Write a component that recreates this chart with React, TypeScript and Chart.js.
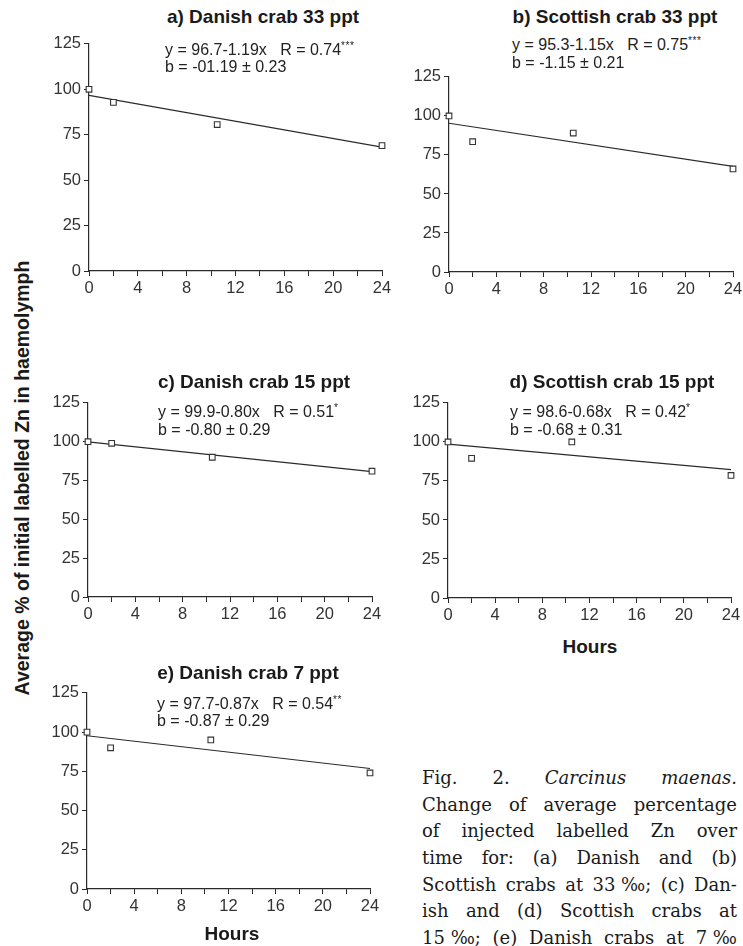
import React, { useEffect, useRef } from "react";
import { Chart, registerables } from "chart.js";

Chart.register(...registerables);

// ---------- data ----------
const panelTitles = [
  "a) Danish crab 33 ppt",
  "b) Scottish crab 33 ppt",
  "c) Danish crab 15 ppt",
  "d) Scottish crab 15 ppt",
  "e) Danish crab 7 ppt",
];
const eqIntercepts = [96.7, 95.3, 99.9, 98.6, 97.7];
const eqSlopes = [-1.19, -1.15, -0.8, -0.68, -0.87];
const eqTexts = [
  "y = 96.7-1.19x",
  "y = 95.3-1.15x",
  "y = 99.9-0.80x",
  "y = 98.6-0.68x",
  "y = 97.7-0.87x",
];
const rTexts = ["R = 0.74", "R = 0.75", "R = 0.51", "R = 0.42", "R = 0.54"];
const rStars = ["***", "***", "*", "*", "**"];
const bTexts = [
  "b = -01.19 ± 0.23",
  "b = -1.15 ± 0.21",
  "b = -0.80 ± 0.29",
  "b = -0.68 ± 0.31",
  "b = -0.87 ± 0.29",
];
const hours = [0, 2, 10.5, 24];
const valuesA = [100, 92.8, 80.6, 69];
const valuesB = [100, 83.5, 89, 66];
const valuesC = [100, 99, 90, 81];
const valuesD = [100, 89.5, 100, 78.5];
const valuesE = [100, 90, 95, 74];
const panelValues = [valuesA, valuesB, valuesC, valuesD, valuesE];
const xTickValues = [0, 2, 4, 6, 8, 10, 12, 14, 16, 18, 20, 22, 24];
const xTickLabels = ["0", "", "4", "", "8", "", "12", "", "16", "", "20", "", "24"];
const yTickValues = [0, 25, 50, 75, 100, 125];
const xAxisTitle = "Hours";
const yAxisTitle = "Average % of initial labelled Zn in haemolymph";
const captionLines: string[][] = [
  ["Fig.", "2.", "Carcinus", "maenas."],
  ["Change", "of", "average", "percentage"],
  ["of", "injected", "labelled", "Zn", "over"],
  ["time", "for:", "(a)", "Danish", "and", "(b)"],
  ["Scottish", "crabs", "at", "33 ‰;", "(c)", "Dan-"],
  ["ish", "and", "(d)", "Scottish", "crabs", "at"],
  ["15 ‰;", "(e)", "Danish", "crabs", "at", "7 ‰"],
];
const italicWords = ["Carcinus", "maenas."];

// ---------- layout (plot area rectangles in page px) ----------
const rects = [
  { l: 89, r: 382, t: 43, b: 271 },
  { l: 449, r: 733, t: 76, b: 272 },
  { l: 88, r: 372, t: 402, b: 597 },
  { l: 448, r: 731, t: 402, b: 598 },
  { l: 87, r: 370, t: 692, b: 889 },
];
const titlePos = [
  { cx: 263, cy: 17 },
  { cx: 615, cy: 17 },
  { cx: 254, cy: 382 },
  { cx: 612, cy: 382 },
  { cx: 248, cy: 673 },
];
const eqPos = [
  { x: 165, y1: 46, y2: 67 },
  { x: 512, y1: 41, y2: 63 },
  { x: 158, y1: 408, y2: 430 },
  { x: 510, y1: 408, y2: 430 },
  { x: 157, y1: 700, y2: 721 },
];

const SANS = "'Liberation Sans', Arial, Helvetica, sans-serif";
const INK = "#2a2a2a";

const PAD_L = 46;
const PAD_T = 12;
const PAD_R = 16;
const PAD_B = 34;

function Panel({ idx }: { idx: number }) {
  const ref = useRef<HTMLCanvasElement | null>(null);
  const rc = rects[idx];
  const w = rc.r - rc.l + PAD_L + PAD_R;
  const h = rc.b - rc.t + PAD_T + PAD_B;

  useEffect(() => {
    if (!ref.current) return;
    const a = eqIntercepts[idx];
    const s = eqSlopes[idx];
    const vals = panelValues[idx];
    const chart = new Chart(ref.current, {
      type: "scatter",
      data: {
        datasets: [
          {
            type: "scatter",
            data: hours.map((hh, i) => ({ x: hh, y: vals[i] })),
            pointStyle: "rect",
            pointRadius: 4,
            borderColor: "#333",
            backgroundColor: "#fff",
            borderWidth: 1.1,
            order: 0,
            clip: 8,
          } as any,
          {
            type: "line",
            data: [
              { x: 0, y: a },
              { x: 24, y: a + s * 24 },
            ],
            borderColor: INK,
            borderWidth: 1.2,
            pointRadius: 0,
            fill: false,
            order: 1,
          } as any,
        ],
      },
      options: {
        animation: false,
        responsive: false,
        maintainAspectRatio: false,
        layout: { padding: { left: 0, top: PAD_T, right: PAD_R, bottom: 0 } },
        plugins: { legend: { display: false }, tooltip: { enabled: false } },
        scales: {
          x: {
            type: "linear",
            min: 0,
            max: 24,
            afterBuildTicks: (sc: any) => {
              sc.ticks = xTickValues.map((v) => ({ value: v }));
            },
            afterFit: (sc: any) => {
              sc.height = PAD_B;
            },
            ticks: {
              autoSkip: false,
              maxRotation: 0,
              padding: 3,
              color: "#333",
              font: { family: SANS, size: 16.5 },
              callback: (v: any) => {
                const i = xTickValues.indexOf(Number(v));
                return i >= 0 ? xTickLabels[i] : "";
              },
            },
            grid: { drawOnChartArea: false, tickLength: 5, color: INK, tickWidth: 1 },
            border: { color: INK, width: 1.2 },
          },
          y: {
            type: "linear",
            min: 0,
            max: 125,
            afterBuildTicks: (sc: any) => {
              sc.ticks = yTickValues.map((v) => ({ value: v }));
            },
            afterFit: (sc: any) => {
              sc.width = PAD_L;
            },
            ticks: {
              padding: 3,
              color: "#333",
              font: { family: SANS, size: 16.5 },
            },
            grid: { drawOnChartArea: false, tickLength: 5, color: INK, tickWidth: 1 },
            border: { color: INK, width: 1.2 },
          },
        },
      } as any,
    });
    return () => chart.destroy();
  }, [idx]);

  return (
    <canvas
      ref={ref}
      width={w}
      height={h}
      style={{ position: "absolute", left: rc.l - PAD_L, top: rc.t - PAD_T, width: w, height: h }}
    />
  );
}

function PanelText({ idx }: { idx: number }) {
  const tp = titlePos[idx];
  const ep = eqPos[idx];
  return (
    <>
      <div
        style={{
          position: "absolute",
          left: tp.cx,
          top: tp.cy - 12,
          transform: "translateX(-50%)",
          font: `bold 19px ${SANS}`,
          lineHeight: "24px",
          color: "#1a1a1a",
          whiteSpace: "nowrap",
        }}
      >
        {panelTitles[idx]}
      </div>
      <div
        style={{
          position: "absolute",
          left: ep.x,
          top: ep.y1 - 10,
          font: `16px ${SANS}`,
          lineHeight: "20px",
          color: "#222",
          whiteSpace: "pre",
        }}
      >
        {eqTexts[idx] + "   " + rTexts[idx]}
        <span style={{ fontSize: 10, verticalAlign: "6px", letterSpacing: 0.5 }}>{rStars[idx]}</span>
      </div>
      <div
        style={{
          position: "absolute",
          left: ep.x,
          top: ep.y2 - 10,
          font: `16px ${SANS}`,
          lineHeight: "20px",
          color: "#222",
          whiteSpace: "pre",
        }}
      >
        {bTexts[idx]}
      </div>
    </>
  );
}

export default function App() {
  return (
    <div
      style={{
        position: "absolute",
        left: 0,
        top: 0,
        width: 743,
        height: 946,
        background: "#fff",
        overflow: "hidden",
      }}
    >
      {[0, 1, 2, 3, 4].map((i) => (
        <Panel key={"p" + i} idx={i} />
      ))}
      {[0, 1, 2, 3, 4].map((i) => (
        <PanelText key={"t" + i} idx={i} />
      ))}
      <div
        style={{
          position: "absolute",
          left: 22,
          top: 478,
          transform: "translate(-50%, -50%) rotate(-90deg)",
          font: `bold 19.5px ${SANS}`,
          color: "#1a1a1a",
          whiteSpace: "nowrap",
        }}
      >
        {yAxisTitle}
      </div>
      <div
        style={{
          position: "absolute",
          left: 590,
          top: 635,
          transform: "translateX(-50%)",
          font: `bold 19px ${SANS}`,
          lineHeight: "24px",
          color: "#1a1a1a",
        }}
      >
        {xAxisTitle}
      </div>
      <div
        style={{
          position: "absolute",
          left: 232,
          top: 922,
          transform: "translateX(-50%)",
          font: `bold 19px ${SANS}`,
          lineHeight: "24px",
          color: "#1a1a1a",
        }}
      >
        {xAxisTitle}
      </div>
      <div style={{ position: "absolute", left: 422, top: 765, width: 315 }}>
        {captionLines.map((ln, i) => (
          <div
            key={i}
            style={{
              display: "flex",
              justifyContent: "space-between",
              flexWrap: "nowrap",
              font: `18px 'DejaVu Serif', 'Liberation Serif', serif`,
              lineHeight: "26.7px",
              height: 26.7,
              color: "#1a1a1a",
            }}
          >
            {ln.map((word, j) => (
              <span
                key={j}
                style={{
                  whiteSpace: "pre",
                  flexShrink: 0,
                  fontStyle: i === 0 && italicWords.includes(word) ? "italic" : "normal",
                }}
              >
                {word}
              </span>
            ))}
          </div>
        ))}
      </div>
    </div>
  );
}
